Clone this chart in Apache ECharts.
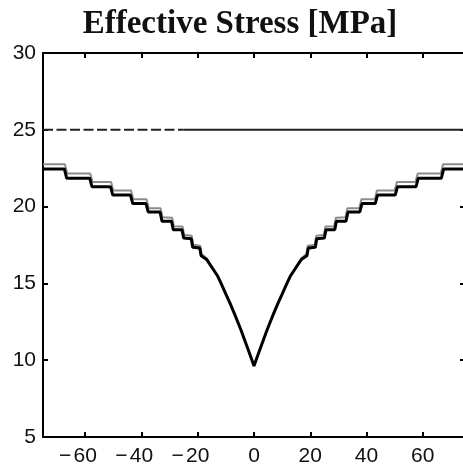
<!DOCTYPE html>
<html>
<head>
<meta charset="utf-8">
<script src="https://cdn.jsdelivr.net/npm/echarts@6/dist/echarts.min.js"></script>
<style>
  html, body { margin: 0; padding: 0; background: #fff; }
  #chart { width: 463px; height: 469px; }
</style>
</head>
<body>
<div id="chart"></div>
<script>
// Tick positions
const xTicks = [-60, -40, -20, 0, 20, 40, 60];
const yTicks = [5, 10, 15, 20, 25, 30];

// Reference stress level (dashed part, then solid part)
const refDashX = [-75, -25];
const refDashY = [25, 25];
const refSolidX = [-25, 75];
const refSolidY = [25, 25];

// Effective stress profile (black, staircase away from the centre)
const blackX = [-75, -67.4, -66.6, -58.4, -57.6, -51, -50.2, -43.9, -43.1, -38.4, -37.6, -33.4, -32.7, -29.3, -28.7, -25.6, -25.0, -22.3, -21.8, -19.3, -18.8, -16.8, -15, -13, -11.7, -10, -8.5, -7, -5.8, -4.6, -3.3, -2, -1, 0,
                1, 2, 3.3, 4.6, 5.8, 7, 8.5, 10, 11.7, 13, 15, 16.8, 18.8, 19.3, 21.8, 22.3, 25.0, 25.6, 28.7, 29.3, 32.7, 33.4, 37.6, 38.4, 43.1, 43.9, 50.2, 51, 57.6, 58.4, 66.6, 67.4, 75];
const blackY = [22.45, 22.45, 21.85, 21.85, 21.3, 21.3, 20.75, 20.75, 20.2, 20.2, 19.65, 19.65, 19.05, 19.05, 18.5, 18.5, 17.95, 17.9, 17.35, 17.3, 16.8, 16.55, 16.05, 15.5, 15.0, 14.3, 13.7, 13.05, 12.5, 11.95, 11.3, 10.65, 10.15, 9.62,
                10.15, 10.65, 11.3, 11.95, 12.5, 13.05, 13.7, 14.3, 15.0, 15.5, 16.05, 16.55, 16.8, 17.3, 17.35, 17.9, 17.95, 18.5, 18.5, 19.05, 19.05, 19.65, 19.65, 20.2, 20.2, 20.75, 20.75, 21.3, 21.3, 21.85, 21.85, 22.45, 22.45];

// Companion profile (grey), slightly above the black one on the outer steps
const grayX = [-75, -67.2, -66.4, -58.2, -57.4, -50.8, -50.0, -43.7, -42.9, -38.2, -37.4, -33.2, -32.5, -29.1, -28.5, -25.4, -24.8, -22.1, -21.6, -19.1, -18.6, -16.8, -15, -13, -11.7, -10, -7, -4.6, -2, 0,
               2, 4.6, 7, 10, 11.7, 13, 15, 16.8, 18.6, 19.1, 21.6, 22.1, 24.8, 25.4, 28.5, 29.1, 32.5, 33.2, 37.4, 38.2, 42.9, 43.7, 50.0, 50.8, 57.4, 58.2, 66.4, 67.2, 75];
const grayY = [22.75, 22.75, 22.15, 22.15, 21.6, 21.6, 21.05, 21.05, 20.48, 20.48, 19.9, 19.9, 19.3, 19.28, 18.72, 18.7, 18.15, 18.1, 17.52, 17.45, 16.92, 16.62, 16.1, 15.5, 15.0, 14.3, 13.05, 11.95, 10.65, 9.62,
               10.65, 11.95, 13.05, 14.3, 15.0, 15.5, 16.1, 16.62, 16.92, 17.45, 17.52, 18.1, 18.15, 18.7, 18.72, 19.28, 19.3, 19.9, 19.9, 20.48, 20.48, 21.05, 21.05, 21.6, 21.6, 22.15, 22.15, 22.75, 22.75];

const pairs = (xs, ys) => xs.map((x, i) => [x, ys[i]]);

const sansFamily = 'Liberation Sans, Arial, sans-serif';
const labelFont = { fontFamily: sansFamily, fontSize: 21, color: '#111' };
const axisLineStyle = { color: '#000', width: 2 };

// Negative x labels: the digits stay centred on the tick, the minus sign hangs to the left
const xLabelFmt = v => (v < 0 ? '{m|\u2212}{d|' + Math.abs(v) + '}{p|}' : '{d|' + v + '}');
const xRich = {
  m: { fontFamily: sansFamily, fontSize: 21, color: '#111', width: 17, align: 'center' },
  d: { fontFamily: sansFamily, fontSize: 21, color: '#111' },
  p: { fontFamily: sansFamily, fontSize: 21, width: 17 }
};

const chart = echarts.init(document.getElementById('chart'), null, { renderer: 'canvas' });

chart.setOption({
  animation: false,
  backgroundColor: '#fff',
  grid: { left: 43, right: -2, top: 53, bottom: 32, containLabel: false, outerBoundsMode: 'none' },
  graphic: [{
    type: 'text',
    x: 240,
    y: 24,
    style: {
      text: 'Effective Stress [MPa]',
      fontFamily: 'Liberation Serif, Times New Roman, serif',
      fontWeight: 'bold',
      fontSize: 33,
      fill: '#111',
      textAlign: 'center',
      textVerticalAlign: 'middle'
    }
  }],
  xAxis: [{
    type: 'value', position: 'bottom', min: -75, max: 75,
    axisLine: { show: true, onZero: false, lineStyle: axisLineStyle },
    axisTick: { show: true, inside: true, length: 5, customValues: xTicks, lineStyle: axisLineStyle },
    axisLabel: Object.assign({ show: true, margin: 9, customValues: xTicks, formatter: xLabelFmt, rich: xRich }, labelFont),
    splitLine: { show: false }
  }, {
    type: 'value', position: 'top', min: -75, max: 75,
    axisLine: { show: true, onZero: false, lineStyle: axisLineStyle },
    axisTick: { show: true, inside: true, length: 5, customValues: xTicks, lineStyle: axisLineStyle },
    axisLabel: { show: false },
    splitLine: { show: false }
  }],
  yAxis: [{
    type: 'value', position: 'left', min: 5, max: 30, interval: 5,
    axisLine: { show: true, onZero: false, lineStyle: axisLineStyle },
    axisTick: { show: true, inside: true, length: 5, lineStyle: axisLineStyle },
    axisLabel: Object.assign({ show: true, margin: 7, customValues: yTicks }, labelFont),
    splitLine: { show: false }
  }, {
    type: 'value', position: 'right', min: 5, max: 30, interval: 5,
    axisLine: { show: true, onZero: false, lineStyle: axisLineStyle },
    axisTick: { show: true, inside: true, length: 5, lineStyle: axisLineStyle },
    axisLabel: { show: false },
    splitLine: { show: false }
  }],
  series: [{
    type: 'line', name: 'ref-dashed', data: pairs(refDashX, refDashY),
    showSymbol: false, symbol: 'none',
    lineStyle: { color: '#222', width: 2, type: [10, 3.5] }
  }, {
    type: 'line', name: 'ref-solid', data: pairs(refSolidX, refSolidY),
    showSymbol: false, symbol: 'none',
    lineStyle: { color: '#222', width: 2 }
  }, {
    type: 'line', name: 'grey', data: pairs(grayX, grayY),
    showSymbol: false, symbol: 'none',
    lineStyle: { color: '#8c8c8c', width: 2 }
  }, {
    type: 'line', name: 'black', data: pairs(blackX, blackY),
    showSymbol: false, symbol: 'none',
    lineStyle: { color: '#000', width: 3 }
  }]
});
</script>
</body>
</html>
